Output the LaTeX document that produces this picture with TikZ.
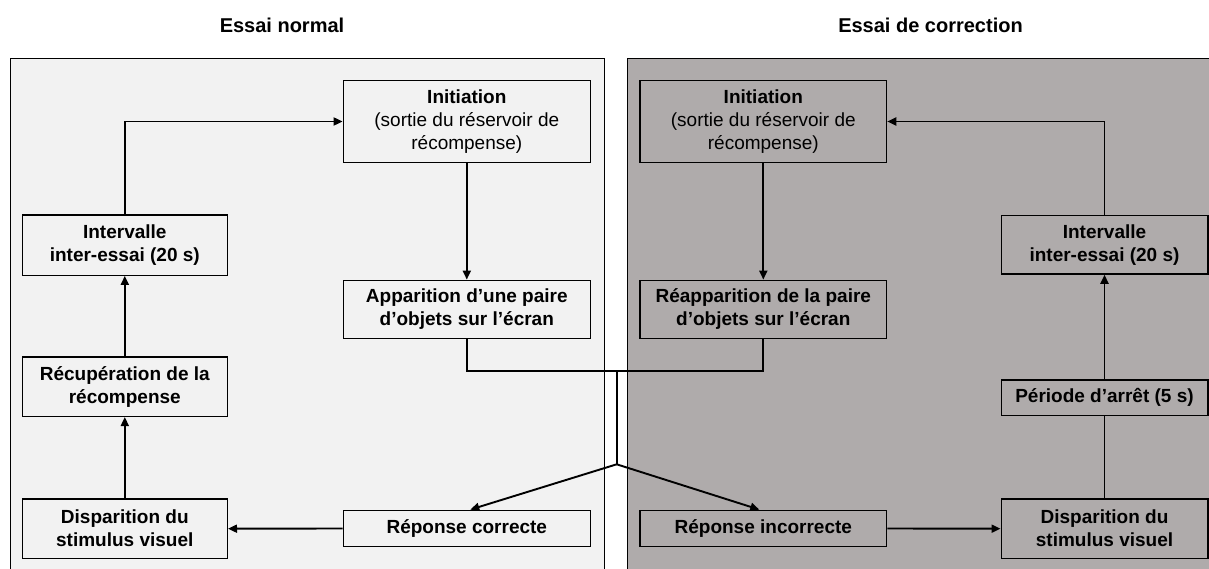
\documentclass[tikz,border=0pt]{standalone}
\usepackage{fontspec}
\setmainfont{Liberation Sans}
\usetikzlibrary{arrows.meta,calc}
\definecolor{lightbg}{HTML}{F2F2F2}
\definecolor{darkbg}{HTML}{AFABAB}
\begin{document}
\begin{tikzpicture}[x=1pt,y=-1pt,
  box/.style={draw=black,line width=1.4pt,align=center,inner sep=0pt,
    font=\fontsize{19}{23}\selectfont\bfseries},
  lbox/.style={box,fill=lightbg},
  dbox/.style={box,fill=darkbg},
  conn/.style={line width=1.9pt},
  arr/.style={conn,-{Triangle[length=9pt,width=8pt]}},
  ttl/.style={font=\fontsize{20}{24}\selectfont\bfseries,inner sep=0pt}]
\useasboundingbox (0,0) rectangle (1209,569);
\fill[white] (0,0) rectangle (1209,569);
% panels
\draw[fill=lightbg,line width=1pt] (10.5,59) rectangle (604.5,580);
\draw[fill=darkbg,line width=1pt] (627,59) rectangle (1220,580);
% titles
\node[ttl] (t1) at (282,25) {Essai normal};
\node[ttl] (t2) at (930.5,25) {Essai de correction};
% left boxes
\node[lbox,minimum width=247pt,minimum height=82pt] (lInit) at (466.8,121.5)
  {Initiation\\{\mdseries(sortie du réservoir de}\\{\mdseries récompense)}};
\node[lbox,minimum width=247pt,minimum height=58.4pt] (lApp) at (466.8,309.5)
  {Apparition d’une paire\\d’objets sur l’écran};
\node[lbox,minimum width=205pt,minimum height=60pt] (lInt) at (124.8,245.2)
  {Intervalle\\inter-essai (20 s)};
\node[lbox,minimum width=205pt,minimum height=59.3pt] (lRec) at (124.8,386.7)
  {Récupération de la\\récompense};
\node[lbox,minimum width=205pt,minimum height=59.3pt] (lDis) at (124.8,528.7)
  {Disparition du\\stimulus visuel};
\node[lbox,minimum width=247pt,minimum height=36.4pt] (lRep) at (466.8,528.5)
  {Réponse correcte};
% right boxes
\node[dbox,minimum width=246.6pt,minimum height=82pt] (rInit) at (763.3,121.5)
  {Initiation\\{\mdseries(sortie du réservoir de}\\{\mdseries récompense)}};
\node[dbox,minimum width=246.6pt,minimum height=58.4pt] (rApp) at (763.3,309.5)
  {Réapparition de la paire\\d’objets sur l’écran};
\node[dbox,minimum width=206.6pt,minimum height=58.3pt] (rInt) at (1104.5,244.9)
  {Intervalle\\inter-essai (20 s)};
\node[dbox,minimum width=206.6pt,minimum height=35.7pt] (rPer) at (1104.5,397.8)
  {Période d’arrêt (5 s)};
\node[dbox,minimum width=206.6pt,minimum height=59.3pt] (rDis) at (1104.5,528.7)
  {Disparition du\\stimulus visuel};
\node[dbox,minimum width=246.6pt,minimum height=36.4pt] (rRep) at (763.3,528.5)
  {Réponse incorrecte};
% junction coordinates
\coordinate (T) at (616.7,371);
\coordinate (J) at (616.7,464.3);
% left connectors
\draw[arr] (lInt.north) |- (lInit.west);
\draw[arr] (lInit.south) -- (lApp.north);
\draw[arr] (lRec.north) -- (lInt.south);
\draw[arr] (lDis.north) -- (lRec.south);
\draw[arr] (lRep.west) -- (lDis.east);
% right connectors
\draw[arr] (rInt.north) |- (rInit.east);
\draw[arr] (rInit.south) -- (rApp.north);
\draw[arr] (rPer.north) -- (rInt.south);
\draw[conn] (rDis.north) -- (rPer.south);
\draw[arr] (rRep.east) -- (rDis.west);
% central split
\draw[conn] (lApp.south) -- (lApp.south |- T) -- (rApp.south |- T) -- (rApp.south);
\draw[conn] (T) -- (J);
\draw[arr] (J) -- ($(lRep.north)+(3.5,0)$);
\draw[arr] (J) -- ($(rRep.north)+(-4,0)$);
\end{tikzpicture}
\end{document}
